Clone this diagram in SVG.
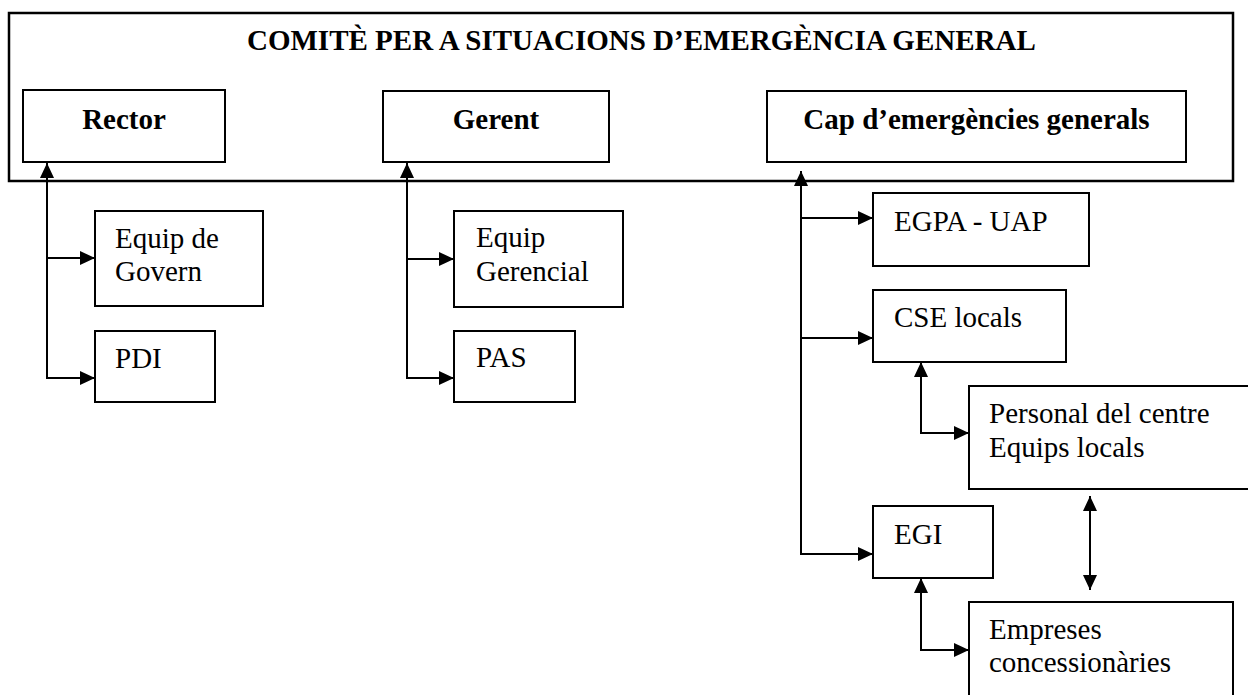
<svg xmlns="http://www.w3.org/2000/svg" width="1248" height="695" viewBox="0 0 1248 695">
<style>
.box{fill:#fff;stroke:#000;stroke-width:2}
.outer{fill:#fff;stroke:#000;stroke-width:2.5}
.t{font-family:"Liberation Serif","Times New Roman",serif;font-size:29px;fill:#000}
.b{font-weight:bold}
.c{fill:none;stroke:#000;stroke-width:2}
</style>
<defs>
<marker id="ah" viewBox="0 0 15 14" refX="15" refY="7" markerWidth="15" markerHeight="14" markerUnits="userSpaceOnUse" orient="auto-start-reverse">
<path d="M0,0 L15,7 L0,14 Z" fill="#000"/>
</marker>
</defs>
<g id="comite">
<rect class="outer" x="9" y="13" width="1224" height="168"/>
<text class="t b" x="247" y="50">COMITÈ PER A SITUACIONS D’EMERGÈNCIA GENERAL</text>
</g>
<g id="rector">
<rect class="box" x="23" y="90" width="202" height="72"/>
<text class="t b" x="124" y="129" text-anchor="middle">Rector</text>
</g>
<g id="gerent">
<rect class="box" x="383" y="91" width="226" height="71"/>
<text class="t b" x="496" y="129" text-anchor="middle">Gerent</text>
</g>
<g id="cap">
<rect class="box" x="767" y="91" width="419" height="71"/>
<text class="t b" x="976.5" y="129" text-anchor="middle">Cap d’emergències generals</text>
</g>
<g id="equip-govern">
<rect class="box" x="95" y="211" width="168" height="95"/>
<text class="t" x="115" y="248">Equip de</text>
<text class="t" x="115" y="281">Govern</text>
</g>
<g id="pdi">
<rect class="box" x="95" y="331" width="120" height="71"/>
<text class="t" x="115" y="368">PDI</text>
</g>
<g id="equip-gerencial">
<rect class="box" x="454" y="211" width="169" height="96"/>
<text class="t" x="476" y="247">Equip</text>
<text class="t" x="476" y="281">Gerencial</text>
</g>
<g id="pas">
<rect class="box" x="454" y="331" width="121" height="71"/>
<text class="t" x="476" y="367">PAS</text>
</g>
<g id="egpa">
<rect class="box" x="873" y="193" width="216" height="73"/>
<text class="t" x="894" y="231">EGPA - UAP</text>
</g>
<g id="cse">
<rect class="box" x="873" y="290" width="193" height="72"/>
<text class="t" x="894" y="327">CSE locals</text>
</g>
<g id="personal">
<rect class="box" x="969" y="386" width="290" height="103"/>
<text class="t" x="989" y="423">Personal del centre</text>
<text class="t" x="989" y="457">Equips locals</text>
</g>
<g id="egi">
<rect class="box" x="873" y="506" width="120" height="72"/>
<text class="t" x="894" y="544">EGI</text>
</g>
<g id="empreses">
<rect class="box" x="969" y="602" width="264" height="110"/>
<text class="t" x="989" y="639">Empreses</text>
<text class="t" x="989" y="672">concessionàries</text>
</g>
<g id="connectors">
<path class="c" d="M95,378 H47 V163" marker-start="url(#ah)" marker-end="url(#ah)"/>
<path class="c" d="M47,258 H95" marker-end="url(#ah)"/>
<path class="c" d="M454,378 H407 V163" marker-start="url(#ah)" marker-end="url(#ah)"/>
<path class="c" d="M407,259 H454" marker-end="url(#ah)"/>
<path class="c" d="M873,554 H801 V171" marker-start="url(#ah)" marker-end="url(#ah)"/>
<path class="c" d="M801,218 H873" marker-end="url(#ah)"/>
<path class="c" d="M801,338 H873" marker-end="url(#ah)"/>
<path class="c" d="M969,433 H921 V362" marker-start="url(#ah)" marker-end="url(#ah)"/>
<path class="c" d="M969,650 H921 V578" marker-start="url(#ah)" marker-end="url(#ah)"/>
<path class="c" d="M1090,496 V590" marker-start="url(#ah)" marker-end="url(#ah)"/>
</g>
</svg>
